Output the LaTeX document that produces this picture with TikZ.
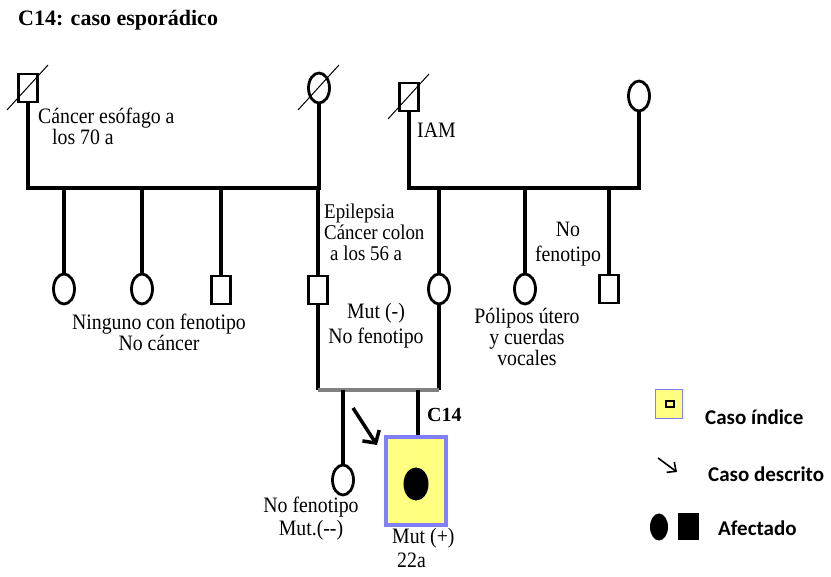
\documentclass[tikz,border=0pt]{standalone}
\usepackage{fontspec}
\setmainfont[FakeStretch=0.9]{Liberation Serif}
\newfontfamily\titleFont{Liberation Serif}
\newfontfamily\legendFont{Carlito}
\usetikzlibrary{shapes.geometric,arrows.meta}
\definecolor{indexYellow}{RGB}{255,255,128}
\definecolor{indexBlue}{RGB}{128,128,255}
\definecolor{marriageGray}{RGB}{128,128,128}
\tikzstyle{pedigree} = [x = 1pt, y = -1pt]
\tikzstyle{maleStyle} = [draw, rectangle, line width=2.8pt, minimum width=19pt, minimum height=28pt, inner sep=0pt]
\tikzstyle{femaleStyle} = [draw, ellipse, line width=2.8pt, minimum width=21pt, minimum height=30pt, inner sep=0pt]
\tikzstyle{barLine} = [line width=4.5pt]
\tikzstyle{kidLine} = [line width=3.5pt]
\tikzstyle{slashLine} = [line width=1pt]
\tikzstyle{noteText} = [font=\fontsize{22}{21}\selectfont, inner sep=0pt]
\tikzstyle{legendText} = [font=\legendFont\bfseries\fontsize{21}{21}\selectfont, anchor=west, inner sep=0pt]
\newcommand{\deceasedLine}[1]{\draw [slashLine] ([shift={(-21,22)}]#1.center) -- ([shift={(20,-23)}]#1.center);}

\begin{document}
\begin{tikzpicture}[pedigree]
  \useasboundingbox (0,0) rectangle (831,577);
  \node [noteText, font=\titleFont\bfseries\fontsize{22}{22}\selectfont, anchor=base west] (title) at (18,26) {C14: caso esporádico};

  \node [maleStyle] (gpPat) at (28,88) {};
  \node [femaleStyle] (gmPat) at (319,88) {};
  \node [maleStyle] (gpMat) at (409,97) {};
  \node [femaleStyle] (gmMat) at (639,96) {};
  \deceasedLine{gpPat}
  \deceasedLine{gmPat}
  \deceasedLine{gpMat}

  \coordinate (patBar) at (0,188);
  \coordinate (matBar) at (0,188);
  \coordinate (marriage) at (0,390);
  \draw [barLine] (gpPat.south) |- (patBar -| gmPat.south) -- (gmPat.south);
  \draw [barLine] (gpMat.south) |- (matBar -| gmMat.south) -- (gmMat.south);

  \node [femaleStyle] (aunt1) at (64,289) {};
  \node [femaleStyle] (aunt2) at (142,289) {};
  \node [maleStyle] (uncle1) at (221,290) {};
  \node [maleStyle] (father) at (318,290) {};
  \node [femaleStyle] (mother) at (439,289) {};
  \node [femaleStyle] (aunt3) at (525,289) {};
  \node [maleStyle] (uncle2) at (609,289) {};
  \foreach \kid in {aunt1, aunt2, uncle1, father}
    \draw [kidLine] (\kid.north) -- (\kid.north |- patBar);
  \foreach \kid in {mother, aunt3, uncle2}
    \draw [kidLine] (\kid.north) -- (\kid.north |- matBar);

  \draw [kidLine] (father.south) -- (father.south |- marriage);
  \draw [kidLine] (mother.south) -- (mother.south |- marriage);
  \draw [line width=4pt, marriageGray] (father.south |- marriage) -- (mother.south |- marriage);

  \node [femaleStyle] (sister) at (343,480) {};
  \node [draw=indexBlue, fill=indexYellow, line width=3.5pt, minimum width=60pt, minimum height=88pt, inner sep=0pt] (probandBox) at (416,481) {};
  \node [fill, ellipse, minimum width=25pt, minimum height=33pt, inner sep=0pt] (proband) at (416,484) {};
  \draw [kidLine] (sister.north) -- (sister.north |- marriage);
  \draw [kidLine] ([xshift=2pt]probandBox.north) -- ([xshift=2pt]probandBox.north |- marriage);

  \coordinate (arrowStart) at (353,408);
  \coordinate (arrowEnd) at (377,445);
  \draw [line width=3.5pt, -{Straight Barb[length=9pt, width=20pt]}] (arrowStart) -- (arrowEnd);

  \node [noteText, anchor=north west, align=left] (gpPatNote) at (38,108) {Cáncer esófago a\\\hspace*{14pt}los 70 a};
  \node [noteText, anchor=base west] (gpMatNote) at (417,138) {IAM};
  \node [noteText, anchor=north, align=center] (auntsNote) at (159,314) {Ninguno con fenotipo\\No cáncer};
  \node [noteText, font=\fontsize{21}{21}\selectfont, anchor=north west, align=left] (fatherNote) at (324,204) {Epilepsia\\Cáncer colon\\\hspace*{6pt}a los 56 a};
  \node [noteText, font=\fontsize{22}{25}\selectfont, anchor=north, align=center] (parentsNote) at (376,303) {Mut (-)\\No fenotipo};
  \node [noteText, font=\fontsize{22}{25}\selectfont, anchor=north, align=center] (uncle2Note) at (568,222) {No\\fenotipo};
  \node [noteText, anchor=north, align=center] (aunt3Note) at (527,308) {Pólipos útero\\y cuerdas\\vocales};
  \node [noteText, font=\fontsize{22}{23}\selectfont, anchor=north, align=center] (sisterNote) at (311,497) {No fenotipo\\Mut.(-{}-)};
  \node [noteText, font=\fontsize{22}{24}\selectfont, anchor=north west, align=left] (probandNote) at (392,528) {Mut (+)\\\hspace*{5pt}22a};
  \node [noteText, font=\titleFont\bfseries\fontsize{20}{20}\selectfont, anchor=base west] (probandLabel) at (427,422) {C14};

  \node [draw=indexBlue, fill=indexYellow, line width=1.2pt, minimum width=27pt, minimum height=29pt, inner sep=0pt] (legendBox) at (669,404) {};
  \node [draw, line width=1.8pt, minimum width=8pt, minimum height=6pt, inner sep=0pt] (legendMark) at (670,404) {};
  \node [legendText] (legendIndex) at (705,417) {Caso índice};
  \coordinate (legendArrowStart) at (658,458);
  \coordinate (legendArrowEnd) at (677,472);
  \draw [line width=1.6pt, -{Straight Barb[length=7pt, width=13pt]}] (legendArrowStart) -- (legendArrowEnd);
  \node [legendText] (legendDescribed) at (708,474) {Caso descrito};
  \node [fill, ellipse, minimum width=18pt, minimum height=27pt, inner sep=0pt] (legendCircle) at (659,527) {};
  \node [fill, rectangle, minimum width=21pt, minimum height=27pt, inner sep=0pt] (legendSquare) at (688,527) {};
  \node [legendText] (legendAffected) at (718,528) {Afectado};
\end{tikzpicture}
\end{document}
